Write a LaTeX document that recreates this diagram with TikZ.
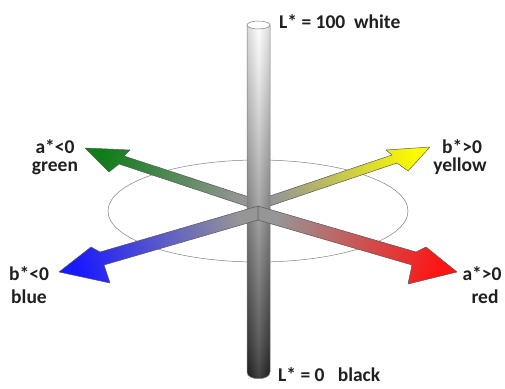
\documentclass[tikz,border=0pt]{standalone}
\usepackage{fontspec}
\setmainfont{Carlito}
\definecolor{greenC}{RGB}{15,125,25}
\definecolor{yellowC}{RGB}{250,250,0}
\definecolor{redC}{RGB}{255,20,20}
\definecolor{blueC}{RGB}{25,25,255}
\definecolor{midG}{RGB}{150,150,150}
\pgfdeclareverticalshading{cylsh}{100bp}{color(0bp)=(black); color(25bp)=(black); color(30bp)=(black!85); color(50bp)=(black!45); color(70bp)=(black!8); color(75bp)=(white); color(100bp)=(white)}
\begin{document}
\begin{tikzpicture}[x=1pt,y=-1pt,
  lbl/.style={font=\bfseries\fontsize{19.5}{21}\selectfont, text=black!88, inner sep=0pt, anchor=base},
  arr/.style={draw=black!65, line width=0.5pt, line join=round},
  ring/.style={draw=black!50, line width=0.5pt}]
\useasboundingbox (0,0) rectangle (505,388);
% plane ellipse
\draw[ring] (258,211) ellipse [x radius=150, y radius=51];
% green arrow (behind the axis)
\path[arr, top color=greenC, bottom color=midG, shading angle=71.8]
  (258,200) -- (124,156) -- (130,150) -- (85,148) -- (109,172) -- (119,164) -- (258,210) -- cycle;
% yellow arrow (behind the axis)
\path[arr, top color=yellowC, bottom color=midG, shading angle=-71.4]
  (258,200) -- (392,155) -- (386,150) -- (430,147) -- (408,171) -- (397,163) -- (258,210) -- cycle;
% lightness axis
\path[shading=cylsh, draw=black!50, line width=0.5pt]
  (247,25) -- (247,372) .. controls (247,381) and (270,381) .. (270,372) -- (270,25) -- cycle;
\path[left color=black!60, right color=black!60, middle color=white, fill opacity=0.25]
  (247,25) -- (247,372) .. controls (247,381) and (270,381) .. (270,372) -- (270,25) -- cycle;
\path[fill=white, draw=black!50, line width=0.5pt] (258.5,25) ellipse [x radius=11.5, y radius=4];
% blue arrow (in front)
\path[arr, top color=blueC, bottom color=midG, shading angle=107]
  (258,206) -- (100,252) -- (91,247) -- (59,272) -- (110,283) -- (104,265) -- (258,220) -- cycle;
% red arrow (in front)
\path[arr, top color=redC, bottom color=midG, shading angle=253.3]
  (258,206) -- (416,252) -- (426,247) -- (457,272) -- (408,284) -- (412,265) -- (258,220) -- cycle;
% labels
\node[lbl, anchor=base west] (lwhite) at (279,28) {L* = 100\ \ white};
\node[lbl, anchor=base west] (lblack) at (278,381) {L* = 0\ \ \ black};
\node[lbl] (aneg) at (55,153) {a*<0};
\node[lbl] (green) at (55,171) {green};
\node[lbl] (bpos) at (462,153) {b*>0};
\node[lbl] (yellow) at (460,171) {yellow};
\node[lbl] (bneg) at (29,280) {b*<0};
\node[lbl] (blue) at (29,303) {blue};
\node[lbl] (apos) at (482,280) {a*>0};
\node[lbl] (red) at (485,303) {red};
\end{tikzpicture}
\end{document}
